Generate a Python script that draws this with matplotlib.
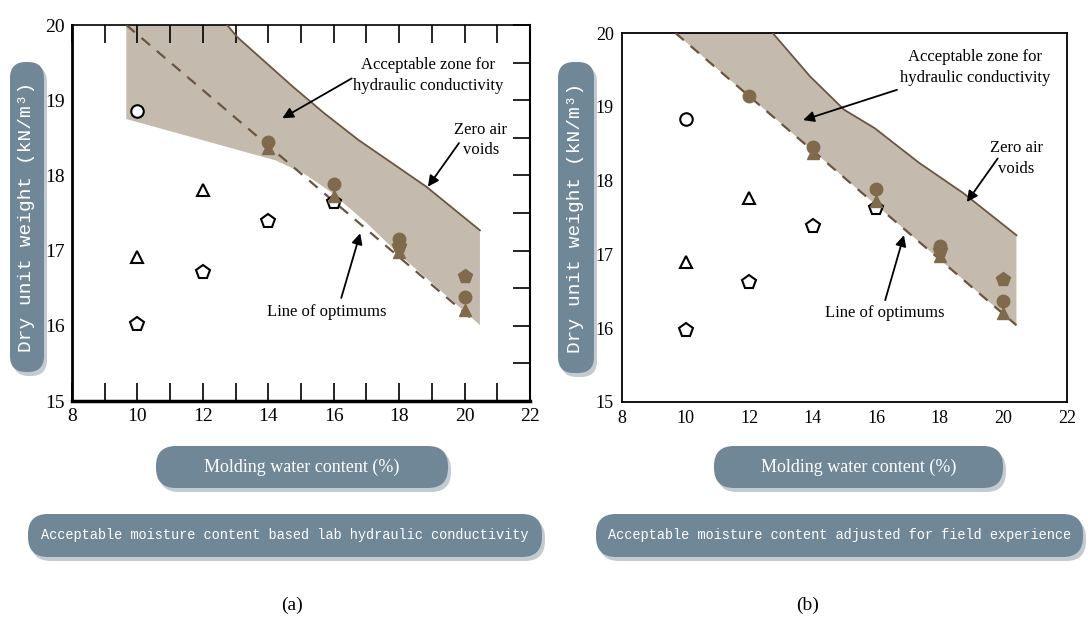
import matplotlib.pyplot as plt
from matplotlib.patches import FancyBboxPatch
from matplotlib.transforms import Affine2D

W, H = 1088, 623

# ---- data ----
# open markers (not acceptable)
open_circle_x = [10]
open_circle_y_a = [18.85]
open_circle_y_b = [18.84]
open_tri_x = [10, 12]
open_tri_y_a = [16.92, 17.80]
open_tri_y_b = [16.90, 17.76]
open_pent_x = [10, 12, 14, 16]
open_pent_y_a = [16.02, 16.72, 17.40, 17.65]
open_pent_y_b = [15.97, 16.62, 17.38, 17.63]

# filled markers (acceptable)
fill_circle_x_a = [14, 16, 18, 20]
fill_circle_y_a = [18.45, 17.89, 17.15, 16.38]
fill_circle_x_b = [12, 14, 16, 18, 20]
fill_circle_y_b = [19.14, 18.45, 17.88, 17.12, 16.37]
fill_tri_x = [14, 16, 18, 20]
fill_tri_y = [18.37, 17.73, 16.98, 16.21]
fill_pent_x = [18, 20]
fill_pent_y = [17.06, 16.66]

# zero air voids curves
zav_x_a = [12.74, 13.05, 14.75, 15.70, 16.76, 17.93, 18.83, 20.47]
zav_y_a = [20.0, 19.84, 19.18, 18.83, 18.47, 18.12, 17.85, 17.27]
zav_x_b = [12.74, 13.92, 14.99, 15.95, 17.35, 18.74, 20.41]
zav_y_b = [20.0, 19.41, 18.96, 18.71, 18.24, 17.83, 17.26]

# lower edge of the acceptable zone in (a)
low_x_a = [9.66, 14.22, 15.07, 15.91, 17.0, 18.0, 20.47]
low_y_a = [18.75, 18.20, 18.03, 17.78, 17.37, 16.95, 16.01]

# line of optimums
opt_x_a = [9.66, 20.2]
opt_y_a = [20.0, 16.1]
opt_x_b = [9.68, 20.41]
opt_y_b = [20.0, 16.04]

x_ticks = [8, 10, 12, 14, 16, 18, 20, 22]
y_ticks = [15, 16, 17, 18, 19, 20]

ZONE = '#c4bbae'
BROWN = '#806a4c'
LINE = '#6b553f'
BOX = '#6f8797'
SHADOW = '#c3cad0'

fig = plt.figure(figsize=(W / 100, H / 100), dpi=100)
px = Affine2D().scale(1, -1).translate(0, H).scale(1 / W, 1 / H) + fig.transFigure


def axes_px(x0, y0, x1, y1):
    ax = fig.add_axes([x0 / W, 1 - y1 / H, (x1 - x0) / W, (y1 - y0) / H])
    ax.set_zorder(5)
    ax.patch.set_alpha(0)
    return ax


def label_box(x0, y0, x1, y1, text, size, family, rot=0, r=18):
    for dx, dy, c, z in [(3, 4, SHADOW, 1), (0, 0, BOX, 2)]:
        p = FancyBboxPatch((x0 + dx, y0 + dy), x1 - x0, y1 - y0,
                           boxstyle=f'round,pad=0,rounding_size={r}',
                           transform=px, fc=c, ec='none', zorder=z)
        fig.patches.append(p)
    cx, cy = (x0 + x1) / 2, (y0 + y1) / 2
    fig.text(*px.transform((cx, cy)), text, transform=None, color='white',
             fontsize=size, family=family, rotation=rot,
             ha='center', va='center', zorder=3)


def draw_points(ax, circ_y, tri_y, pent_y, fc_x, fc_y):
    ms = 9
    ax.plot(open_circle_x, circ_y, 'o', mfc='white', mec='black', mew=1.5, ms=ms, zorder=5)
    ax.plot(open_tri_x, tri_y, '^', mfc='white', mec='black', mew=1.5, ms=ms - 1, zorder=5)
    ax.plot(open_pent_x, pent_y, 'p', mfc='white', mec='black', mew=1.5, ms=ms + 1, zorder=5)
    ax.plot(fill_tri_x, fill_tri_y, '^', color=BROWN, ms=ms - 1, zorder=6)
    ax.plot(fill_pent_x, fill_pent_y, 'p', color=BROWN, ms=ms + 1, zorder=6)
    ax.plot(fc_x, fc_y, 'o', color=BROWN, ms=ms, zorder=6)


def notes(ax, zone_xy, zone_arrow, zav_xy, zav_arrow, opt_xy, opt_arrow):
    tfont = dict(family='Liberation Serif', fontsize=12, ha='center',
                 va='center', linespacing=1.4, zorder=8)
    arrow = dict(arrowstyle='-|>', color='black', lw=1.3, mutation_scale=16,
                 shrinkA=0, shrinkB=0)
    ax.text(*zone_xy, 'Acceptable zone for\nhydraulic conductivity', **tfont)
    ax.annotate('', xy=zone_arrow[1], xytext=zone_arrow[0], arrowprops=arrow, zorder=8)
    ax.text(*zav_xy, 'Zero air\nvoids', **tfont)
    ax.annotate('', xy=zav_arrow[1], xytext=zav_arrow[0], arrowprops=arrow, zorder=8)
    ax.text(*opt_xy, 'Line of optimums', **tfont)
    ax.annotate('', xy=opt_arrow[1], xytext=opt_arrow[0], arrowprops=arrow, zorder=8)


def style(ax, size):
    ax.set_xlim(8, 22)
    ax.set_ylim(15, 20)
    ax.set_xticks(x_ticks)
    ax.set_yticks(y_ticks)
    for lab in ax.get_xticklabels() + ax.get_yticklabels():
        lab.set_family('Liberation Serif')
        lab.set_fontsize(size)


# ---- panel (a) ----
ax1 = axes_px(72, 25, 530, 401)
zone_x = [opt_x_a[0]] + zav_x_a + low_x_a[::-1]
zone_y = [20.0] + zav_y_a + low_y_a[::-1]
ax1.fill(zone_x, zone_y, color=ZONE, lw=0, zorder=1)
ax1.plot(zav_x_a, zav_y_a, color=LINE, lw=1.3, zorder=3)
ax1.plot(opt_x_a, opt_y_a, color=LINE, lw=1.6, ls=(0, (5, 4)), zorder=3)
draw_points(ax1, open_circle_y_a, open_tri_y_a, open_pent_y_a, fill_circle_x_a, fill_circle_y_a)
notes(ax1, (18.88, 19.33), ((16.55, 19.29), (14.43, 18.76)),
      (20.5, 18.47), ((19.83, 18.43), (18.88, 17.85)),
      (15.8, 16.19), ((16.23, 16.37), (16.81, 17.23)))
style(ax1, 14)
ax1.set_xticks(range(9, 22, 2), minor=True)
ax1.set_yticks([15.5, 16.5, 17.5, 18.5, 19.5], minor=True)
ax1.tick_params(axis='x', which='both', direction='in', top=True, bottom=True,
                length=13, width=1.2, pad=5)
ax1.tick_params(axis='y', which='both', direction='in', left=False, right=True,
                length=12, width=1.2, pad=5)
ax1.spines['bottom'].set_linewidth(2.5)
ax1.spines['left'].set_linewidth(2)
ax1.spines['right'].set_linewidth(1.5)
ax1.spines['top'].set_linewidth(1.2)

# ---- panel (b) ----
ax2 = axes_px(622, 33, 1067, 402)
zone_x = opt_x_b + zav_x_b[::-1]
zone_y = opt_y_b + zav_y_b[::-1]
ax2.fill(zone_x, zone_y, color=ZONE, lw=0, zorder=1)
ax2.plot(zav_x_b, zav_y_b, color=LINE, lw=1.3, zorder=3)
ax2.plot(opt_x_b, opt_y_b, color=LINE, lw=1.6, ls=(0, (5, 4)), zorder=3)
draw_points(ax2, open_circle_y_b, open_tri_y_b, open_pent_y_b, fill_circle_x_b, fill_circle_y_b)
notes(ax2, (19.12, 19.53), ((16.65, 19.23), (13.7, 18.82)),
      (20.4, 18.30), ((19.82, 18.30), (18.85, 17.71)),
      (16.28, 16.2), ((16.28, 16.38), (16.87, 17.26)))
style(ax2, 13)
ax2.tick_params(length=0, pad=6)
for s in ax2.spines.values():
    s.set_linewidth(1.3)

# ---- label boxes ----
ylab = 'Dry unit weight (kN/m\u00b3)'
label_box(10, 62, 44, 372, ylab, 14, 'Liberation Mono', rot=90, r=16)
label_box(558, 62, 594, 373, ylab, 14, 'Liberation Mono', rot=90, r=16)
label_box(156, 446, 448, 488, 'Molding water content (%)', 13, 'Liberation Serif', r=20)
label_box(714, 446, 1003, 488, 'Molding water content (%)', 13, 'Liberation Serif', r=20)
label_box(28, 514, 542, 557, 'Acceptable moisture content based lab hydraulic conductivity',
          9.8, 'Liberation Mono', r=20)
label_box(596, 514, 1083, 557, 'Acceptable moisture content adjusted for field experience',
          9.8, 'Liberation Mono', r=20)

fig.text(*px.transform((292, 605)), '(a)', transform=None, fontsize=14,
         family='Liberation Serif', ha='center', va='center')
fig.text(*px.transform((808, 605)), '(b)', transform=None, fontsize=14,
         family='Liberation Serif', ha='center', va='center')

fig.savefig('out.png', dpi=100)
